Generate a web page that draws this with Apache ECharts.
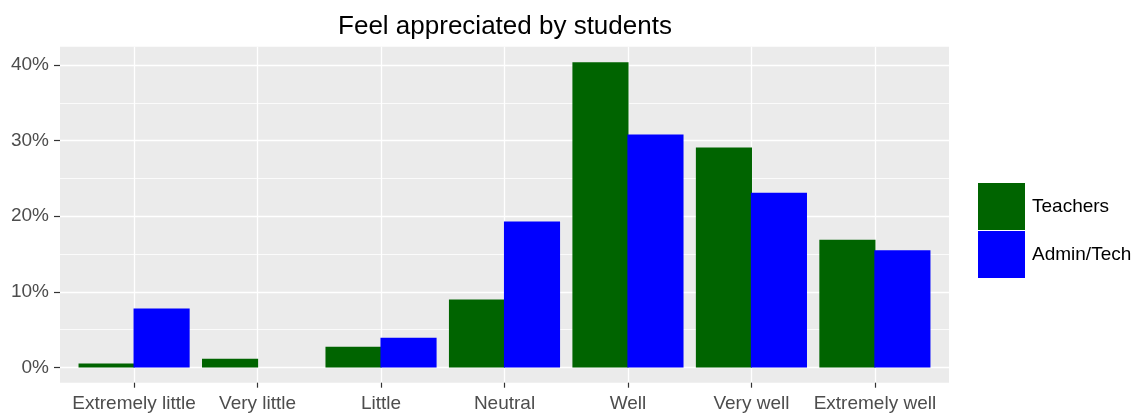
<!DOCTYPE html>
<html>
<head>
<meta charset="utf-8">
<script src="https://cdn.jsdelivr.net/npm/echarts@6/dist/echarts.min.js"></script>
<style>
  html, body { margin: 0; padding: 0; background: #fff; }
  #chart { width: 1145px; height: 414px; }
</style>
</head>
<body>
<div id="chart"></div>
<script>
(function () {

  // data (percent)
  var categories = ['Extremely little', 'Very little', 'Little', 'Neutral', 'Well', 'Very well', 'Extremely well'];
  var teachers = [0.53, 1.15, 2.74, 9.0, 40.36, 29.1, 16.9];
  var adminTech = [7.81, 0, 3.93, 19.3, 30.8, 23.1, 15.5];
  var majorTicks = [0, 10, 20, 30, 40];
  var minorTicks = [5, 15, 25, 35];

  // ggplot style expansion of the y range (5% each side)
  var yMin = -2.02;
  var yMax = 42.42;

  var font = 'Liberation Sans, Arial, sans-serif';
  var axisText = '#4D4D4D';

  // panel and inner band area (first to last category center)
  var panel = { left: 60, right: 196, top: 46.7, bottom: 31.3 };
  var band = { left: 134.1, right: 270.1, top: 46.7, bottom: 31.3 };

  var chart = echarts.init(document.getElementById('chart'), null, { renderer: 'canvas' });

  var option = {
    animation: false,
    backgroundColor: '#fff',
    title: {
      text: 'Feel appreciated by students',
      left: 505,
      top: 14,
      padding: 0,
      textAlign: 'center',
      textStyle: { fontFamily: font, fontSize: 26, fontWeight: 'normal', color: '#000' }
    },
    legend: {
      data: ['Teachers', 'Admin/Tech'],
      orient: 'vertical',
      left: 978,
      top: 183,
      padding: 0,
      itemWidth: 47,
      itemHeight: 47,
      itemGap: 1,
      icon: 'rect',
      selectedMode: false,
      textStyle: { fontFamily: font, fontSize: 19, color: '#000', padding: [6, 0, 0, 2] }
    },
    grid: [
      {
        left: panel.left, right: panel.right, top: panel.top, bottom: panel.bottom,
        show: true, backgroundColor: '#EBEBEB', borderWidth: 0
      },
      {
        left: band.left, right: band.right, top: band.top, bottom: band.bottom,
        show: false
      }
    ],
    xAxis: [
      { type: 'value', gridIndex: 0, min: 0, max: 1, show: false },
      {
        type: 'category',
        gridIndex: 1,
        data: categories,
        boundaryGap: false,
        axisLine: { show: false, onZero: false },
        axisTick: { show: true, length: 5, lineStyle: { color: '#333', width: 1.2 } },
        axisLabel: { interval: 0, margin: 12, fontFamily: font, fontSize: 19, color: axisText },
        splitLine: { show: true, lineStyle: { color: '#fff', width: 1.3 } }
      }
    ],
    yAxis: [
      {
        type: 'value',
        gridIndex: 0,
        min: yMin,
        max: yMax,
        axisLine: { show: false },
        axisTick: { show: true, length: 6, customValues: majorTicks, lineStyle: { color: '#333', width: 1.2 } },
        axisLabel: {
          customValues: majorTicks,
          margin: 11,
          fontFamily: font,
          fontSize: 19,
          color: axisText,
          formatter: '{value}%'
        },
        splitLine: { show: true, lineStyle: { color: '#fff', width: 1.3 } }
      },
      {
        type: 'value',
        gridIndex: 0,
        min: yMin,
        max: yMax,
        axisLine: { show: false },
        axisTick: { show: false, customValues: minorTicks },
        axisLabel: { show: false, customValues: minorTicks },
        splitLine: { show: true, lineStyle: { color: '#fff', width: 0.8 } }
      },
      { type: 'value', gridIndex: 1, min: yMin, max: yMax, show: false, splitLine: { show: false } }
    ],
    series: [
      {
        name: 'Teachers',
        type: 'bar',
        xAxisIndex: 1,
        yAxisIndex: 2,
        data: teachers,
        barGap: '-2%',
        barCategoryGap: '10%',
        clip: false,
        itemStyle: { color: '#006400' }
      },
      {
        name: 'Admin/Tech',
        type: 'bar',
        xAxisIndex: 1,
        yAxisIndex: 2,
        data: adminTech,
        barGap: '-2%',
        barCategoryGap: '10%',
        clip: false,
        itemStyle: { color: '#0000FF' }
      }
    ]
  };

  chart.setOption(option);
}());
</script>
</body>
</html>
